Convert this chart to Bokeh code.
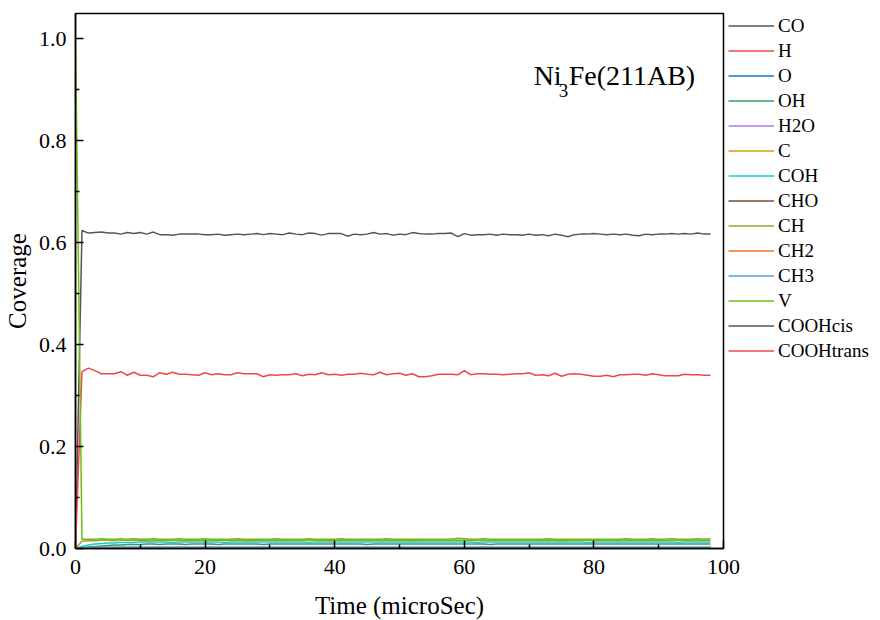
from bokeh.plotting import figure
from bokeh.models import Legend, LegendItem, Label, Range1d, FixedTicker
from bokeh.embed import file_html
from bokeh.resources import INLINE

FONT = "Liberation Serif"

# ---------------- data (time in microSec, coverage) ----------------
time = list(range(0, 99))

co = [0.000, 0.624, 0.619, 0.620, 0.621, 0.619, 0.619, 0.617, 0.620, 0.618,
      0.620, 0.617, 0.621, 0.616, 0.616, 0.615, 0.617, 0.617, 0.617, 0.617,
      0.616, 0.616, 0.617, 0.615, 0.616, 0.617, 0.616, 0.617, 0.618, 0.616,
      0.618, 0.617, 0.616, 0.619, 0.617, 0.616, 0.619, 0.618, 0.615, 0.618,
      0.618, 0.618, 0.613, 0.617, 0.616, 0.617, 0.620, 0.617, 0.618, 0.615,
      0.617, 0.616, 0.620, 0.618, 0.617, 0.617, 0.618, 0.618, 0.619, 0.612,
      0.618, 0.615, 0.616, 0.616, 0.617, 0.615, 0.617, 0.616, 0.616, 0.615,
      0.617, 0.615, 0.616, 0.614, 0.617, 0.615, 0.612, 0.616, 0.617, 0.617,
      0.618, 0.617, 0.616, 0.617, 0.616, 0.617, 0.615, 0.614, 0.617, 0.616,
      0.617, 0.617, 0.618, 0.617, 0.618, 0.617, 0.619, 0.617, 0.617]

h = [0.000, 0.347, 0.354, 0.349, 0.343, 0.343, 0.343, 0.347, 0.340, 0.346,
     0.340, 0.340, 0.337, 0.345, 0.342, 0.346, 0.342, 0.342, 0.341, 0.340,
     0.345, 0.341, 0.343, 0.341, 0.341, 0.345, 0.343, 0.343, 0.343, 0.337,
     0.341, 0.340, 0.341, 0.341, 0.343, 0.339, 0.342, 0.341, 0.345, 0.341,
     0.342, 0.340, 0.342, 0.342, 0.344, 0.342, 0.341, 0.346, 0.341, 0.343,
     0.344, 0.340, 0.343, 0.337, 0.337, 0.339, 0.342, 0.342, 0.342, 0.341,
     0.349, 0.341, 0.343, 0.343, 0.342, 0.342, 0.341, 0.342, 0.343, 0.343,
     0.345, 0.340, 0.341, 0.339, 0.344, 0.338, 0.342, 0.343, 0.342, 0.340,
     0.338, 0.338, 0.340, 0.337, 0.341, 0.341, 0.342, 0.342, 0.340, 0.343,
     0.341, 0.339, 0.339, 0.339, 0.342, 0.341, 0.341, 0.340, 0.340]

o = [0.000, 0.000, 0.001, 0.001, 0.001, 0.001, 0.001, 0.001, 0.001, 0.001,
     0.001, 0.001, 0.001, 0.001, 0.001, 0.001, 0.001, 0.001, 0.001, 0.001,
     0.001, 0.001, 0.001, 0.001, 0.001, 0.001, 0.001, 0.001, 0.001, 0.001,
     0.001, 0.001, 0.001, 0.001, 0.001, 0.001, 0.001, 0.001, 0.001, 0.001,
     0.001, 0.001, 0.001, 0.001, 0.001, 0.001, 0.001, 0.001, 0.001, 0.001,
     0.001, 0.001, 0.001, 0.001, 0.001, 0.001, 0.001, 0.001, 0.001, 0.001,
     0.001, 0.001, 0.001, 0.001, 0.001, 0.001, 0.001, 0.001, 0.001, 0.001,
     0.001, 0.001, 0.001, 0.001, 0.001, 0.001, 0.001, 0.001, 0.001, 0.001,
     0.001, 0.001, 0.001, 0.001, 0.001, 0.001, 0.001, 0.001, 0.001, 0.001,
     0.001, 0.001, 0.001, 0.001, 0.001, 0.001, 0.001, 0.001, 0.001]

oh = [0.000, 0.001, 0.003, 0.004, 0.005, 0.006, 0.007, 0.007, 0.008, 0.008,
      0.008, 0.009, 0.009, 0.008, 0.009, 0.009, 0.009, 0.008, 0.009, 0.009,
      0.009, 0.009, 0.008, 0.009, 0.009, 0.009, 0.009, 0.009, 0.009, 0.008,
      0.009, 0.009, 0.009, 0.009, 0.009, 0.009, 0.009, 0.009, 0.009, 0.009,
      0.009, 0.009, 0.009, 0.009, 0.009, 0.008, 0.009, 0.009, 0.009, 0.009,
      0.009, 0.009, 0.009, 0.009, 0.009, 0.009, 0.009, 0.009, 0.009, 0.009,
      0.009, 0.009, 0.009, 0.009, 0.008, 0.009, 0.009, 0.009, 0.009, 0.009,
      0.009, 0.009, 0.009, 0.009, 0.009, 0.009, 0.009, 0.009, 0.009, 0.009,
      0.009, 0.009, 0.009, 0.009, 0.009, 0.009, 0.009, 0.009, 0.009, 0.009,
      0.009, 0.009, 0.009, 0.009, 0.009, 0.009, 0.009, 0.009, 0.009]

h2o = [0.0] * 99
c = [0.0] * 99

coh = [0.000, 0.004, 0.007, 0.009, 0.010, 0.011, 0.011, 0.012, 0.012, 0.012,
       0.013, 0.013, 0.013, 0.013, 0.013, 0.012, 0.013, 0.013, 0.013, 0.013,
       0.013, 0.013, 0.013, 0.012, 0.013, 0.013, 0.013, 0.013, 0.013, 0.013,
       0.013, 0.013, 0.013, 0.013, 0.013, 0.013, 0.012, 0.013, 0.013, 0.013,
       0.013, 0.013, 0.013, 0.013, 0.013, 0.013, 0.013, 0.013, 0.013, 0.013,
       0.013, 0.013, 0.013, 0.013, 0.013, 0.013, 0.013, 0.013, 0.013, 0.013,
       0.013, 0.013, 0.012, 0.013, 0.013, 0.013, 0.013, 0.013, 0.013, 0.013,
       0.013, 0.013, 0.013, 0.013, 0.013, 0.013, 0.013, 0.013, 0.013, 0.012,
       0.013, 0.013, 0.013, 0.013, 0.013, 0.013, 0.013, 0.013, 0.013, 0.013,
       0.013, 0.013, 0.013, 0.012, 0.013, 0.013, 0.013, 0.013, 0.013]

cho = [0.0] * 99

ch = [0.000, 0.014, 0.015, 0.015, 0.016, 0.016, 0.015, 0.016, 0.016, 0.016,
      0.016, 0.015, 0.016, 0.016, 0.016, 0.016, 0.016, 0.016, 0.015, 0.016,
      0.016, 0.016, 0.016, 0.016, 0.016, 0.016, 0.016, 0.015, 0.016, 0.016,
      0.016, 0.016, 0.016, 0.016, 0.016, 0.016, 0.016, 0.016, 0.016, 0.015,
      0.016, 0.016, 0.016, 0.016, 0.016, 0.016, 0.016, 0.016, 0.016, 0.016,
      0.016, 0.016, 0.015, 0.016, 0.016, 0.016, 0.016, 0.016, 0.016, 0.016,
      0.016, 0.016, 0.016, 0.016, 0.016, 0.016, 0.016, 0.016, 0.016, 0.016,
      0.016, 0.016, 0.016, 0.016, 0.016, 0.015, 0.016, 0.016, 0.016, 0.016,
      0.016, 0.016, 0.016, 0.016, 0.016, 0.016, 0.016, 0.016, 0.016, 0.016,
      0.016, 0.016, 0.016, 0.016, 0.016, 0.016, 0.016, 0.016, 0.016]

ch2 = [0.0] * 99

ch3 = [0.000, 0.001, 0.002, 0.002, 0.003, 0.003, 0.003, 0.003, 0.003, 0.003,
       0.003, 0.003, 0.003, 0.003, 0.003, 0.003, 0.003, 0.003, 0.003, 0.003,
       0.003, 0.003, 0.003, 0.003, 0.003, 0.003, 0.003, 0.003, 0.003, 0.003,
       0.003, 0.003, 0.003, 0.003, 0.003, 0.003, 0.003, 0.003, 0.003, 0.003,
       0.003, 0.003, 0.003, 0.003, 0.003, 0.003, 0.003, 0.003, 0.003, 0.003,
       0.003, 0.003, 0.003, 0.003, 0.003, 0.003, 0.003, 0.003, 0.003, 0.003,
       0.003, 0.003, 0.003, 0.003, 0.003, 0.003, 0.003, 0.003, 0.003, 0.003,
       0.003, 0.003, 0.003, 0.003, 0.003, 0.003, 0.003, 0.003, 0.003, 0.003,
       0.003, 0.003, 0.003, 0.003, 0.003, 0.003, 0.003, 0.003, 0.003, 0.003,
       0.003, 0.003, 0.003, 0.003, 0.003, 0.003, 0.003, 0.003, 0.003]

v = [1.000, 0.018, 0.018, 0.018, 0.019, 0.018, 0.018, 0.019, 0.018, 0.019,
     0.018, 0.018, 0.019, 0.018, 0.018, 0.018, 0.019, 0.018, 0.018, 0.018,
     0.019, 0.018, 0.018, 0.018, 0.018, 0.019, 0.018, 0.018, 0.018, 0.018,
     0.018, 0.019, 0.018, 0.018, 0.018, 0.018, 0.019, 0.018, 0.018, 0.018,
     0.018, 0.019, 0.018, 0.018, 0.018, 0.018, 0.018, 0.018, 0.019, 0.018,
     0.018, 0.018, 0.018, 0.018, 0.018, 0.018, 0.018, 0.018, 0.018, 0.020,
     0.019, 0.018, 0.018, 0.019, 0.018, 0.018, 0.018, 0.018, 0.018, 0.018,
     0.018, 0.018, 0.018, 0.019, 0.018, 0.018, 0.018, 0.018, 0.018, 0.018,
     0.018, 0.018, 0.018, 0.018, 0.018, 0.019, 0.018, 0.018, 0.018, 0.019,
     0.018, 0.018, 0.019, 0.018, 0.018, 0.018, 0.019, 0.018, 0.019]

cooh_cis = [0.0] * 99
cooh_trans = [0.0] * 99

names = ["CO", "H", "O", "OH", "H2O", "C", "COH", "CHO", "CH", "CH2", "CH3",
         "V", "COOHcis", "COOHtrans"]
series = [co, h, o, oh, h2o, c, coh, cho, ch, ch2, ch3, v, cooh_cis, cooh_trans]
colors = ["#555555", "#f04848", "#2070d8", "#2ca25f", "#b57be0", "#d4a000",
          "#18cccc", "#7a4a3c", "#a0a030", "#f07020", "#5a9fe0", "#6cbf10",
          "#555555", "#f04848"]

x_ticks = [0, 20, 40, 60, 80, 100]
y_ticks = [0.0, 0.2, 0.4, 0.6, 0.8, 1.0]

# ---------------- figure ----------------
p = figure(frame_width=648, frame_height=535,
           x_range=Range1d(0, 100), y_range=Range1d(0, 1.05),
           output_backend="svg", toolbar_location=None,
           min_border_left=10, min_border_top=13, min_border_bottom=10,
           min_border_right=0, background_fill_color="white",
           border_fill_color="white")
p.grid.visible = False
p.outline_line_color = "black"
p.outline_line_width = 1.5

items = []
for name, ys, col in zip(names, series, colors):
    r = p.line(time, ys, line_color=col, line_width=1.5)
    items.append(LegendItem(label=name, renderers=[r]))

for ax in (p.xaxis[0], p.yaxis[0]):
    ax.axis_line_color = "black"
    ax.axis_line_width = 1.5
    ax.major_tick_in = 8
    ax.major_tick_out = 0
    ax.minor_tick_in = 4
    ax.minor_tick_out = 0
    ax.major_tick_line_width = 1.5
    ax.minor_tick_line_width = 1.5
    ax.major_label_text_font = FONT
    ax.major_label_text_font_size = "22px"
    ax.major_label_text_color = "black"
    ax.axis_label_text_font = FONT
    ax.axis_label_text_font_size = "25px"
    ax.axis_label_text_font_style = "normal"
    ax.axis_label_text_color = "black"

p.xaxis.ticker = FixedTicker(ticks=x_ticks, minor_ticks=[10, 30, 50, 70, 90])
p.yaxis.ticker = FixedTicker(ticks=y_ticks, minor_ticks=[0.1, 0.3, 0.5, 0.7, 0.9])
p.xaxis.major_label_overrides = {t: str(t) for t in x_ticks}
p.yaxis.major_label_overrides = {t: f"{t:.1f}" for t in y_ticks}
p.xaxis.axis_label = "Time (microSec)"
p.yaxis.axis_label = "Coverage"
p.xaxis.major_label_standoff = 11
p.yaxis.major_label_standoff = 9
p.xaxis.axis_label_standoff = 15
p.yaxis.axis_label_standoff = 5

legend = Legend(items=items, location=(5, 185))
legend.margin = 3
legend.padding = 0
legend.spacing = 0
legend.glyph_width = 46
legend.glyph_height = 25
legend.label_height = 25
legend.label_standoff = 4
legend.label_text_font = FONT
legend.label_text_font_size = "19px"
legend.label_text_color = "black"
legend.border_line_alpha = 0
legend.background_fill_alpha = 0
p.add_layout(legend, "right")

# title text with subscript
p.add_layout(Label(x=70.7, y=0.897, text="Ni", text_font=FONT,
                   text_font_size="28px", text_color="black"))
p.add_layout(Label(x=70.7, y=0.897, x_offset=25, y_offset=-6, text="3",
                   text_font=FONT, text_font_size="19px", text_color="black"))
p.add_layout(Label(x=70.7, y=0.897, x_offset=35, text="Fe(211AB)",
                   text_font=FONT, text_font_size="28px", text_color="black"))

open("out.html", "w").write(file_html(p, INLINE))
